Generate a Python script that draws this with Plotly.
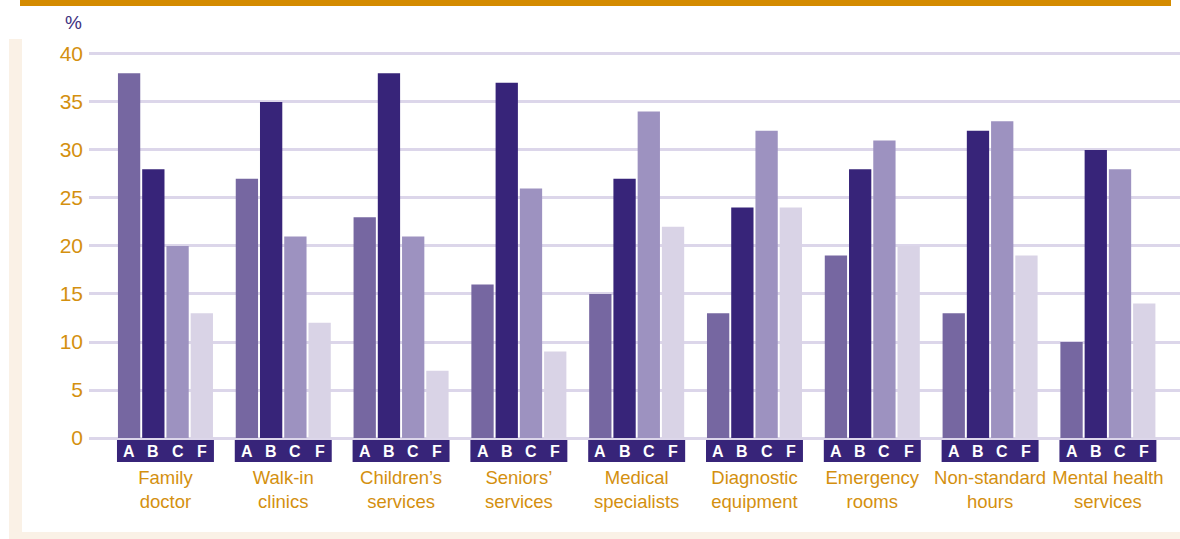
import plotly.graph_objects as go

categories = ["Family<br>doctor", "Walk-in<br>clinics", "Children’s<br>services", "Seniors’<br>services",
              "Medical<br>specialists", "Diagnostic<br>equipment", "Emergency<br>rooms",
              "Non-standard<br>hours", "Mental health<br>services"]
series_names = ["A", "B", "C", "F"]
values_A = [38, 27, 23, 16, 15, 13, 19, 13, 10]
values_B = [28, 35, 38, 37, 27, 24, 28, 32, 30]
values_C = [20, 21, 21, 26, 34, 32, 31, 33, 28]
values_F = [13, 12, 7, 9, 22, 24, 20, 19, 14]
y_ticks = [0, 5, 10, 15, 20, 25, 30, 35, 40]

colors = ["#7667A1", "#372479", "#9D92C0", "#D9D3E6"]
gold = "#D4900F"
band_color = "#372479"
FONT = "Liberation Sans Narrow, Arial Narrow, Liberation Sans, Arial, sans-serif"

bargap = 0.177
slot = (1 - bargap) / 4
idx = list(range(len(categories)))

fig = go.Figure()
for name, vals, col in zip(series_names, [values_A, values_B, values_C, values_F], colors):
    fig.add_trace(go.Bar(x=idx, y=vals, name=name, marker=dict(color=col, line=dict(width=0)),
                         showlegend=False, hoverinfo="y"))

shapes = []
annotations = []
W, H = 1180, 539
ml, mr, mt, mb = 89, 0, 44, 77

def px_x(p):
    return (p - ml) / (W - ml - mr)

def px_y(p):
    return (H - mb - p) / (H - mt - mb)

# cream frame
shapes.append(dict(type="rect", xref="paper", yref="paper", x0=px_x(9), x1=px_x(22), y0=px_y(539), y1=px_y(39),
                   fillcolor="#FAF1E6", line=dict(width=0), layer="below"))
shapes.append(dict(type="rect", xref="paper", yref="paper", x0=px_x(9), x1=px_x(1180), y0=px_y(539), y1=px_y(532),
                   fillcolor="#FAF1E6", line=dict(width=0), layer="below"))
# orange top rule
shapes.append(dict(type="rect", xref="paper", yref="paper", x0=px_x(20), x1=px_x(1171), y0=px_y(6), y1=px_y(0),
                   fillcolor="#D48B00", line=dict(width=0), layer="above"))

for i in idx:
    shapes.append(dict(type="rect", xref="x", yref="y", x0=i - (1 - bargap) / 2, x1=i + (1 - bargap) / 2,
                       y0=-2.5, y1=-0.22, fillcolor=band_color, line=dict(width=0), layer="above"))
    for k, s in enumerate(series_names):
        annotations.append(dict(x=i + (k - 1.5) * slot, y=-1.36, xref="x", yref="y", text=s, showarrow=False,
                                xanchor="center", yanchor="middle",
                                font=dict(family=FONT, size=16, color="white", weight="bold")))

annotations.append(dict(xref="paper", yref="paper", x=px_x(73), y=px_y(22), text="%", showarrow=False,
                        xanchor="center", yanchor="middle",
                        font=dict(family=FONT, size=19, color="#3D3080")))

fig.update_layout(
    width=W, height=H,
    margin=dict(l=ml, r=mr, t=mt, b=mb, autoexpand=False),
    paper_bgcolor="white", plot_bgcolor="white",
    barmode="group", bargap=bargap, bargroupgap=0.08,
    shapes=shapes, annotations=annotations,
    xaxis=dict(tickmode="array", tickvals=idx, ticktext=categories, range=[-0.649, 8.612],
               showgrid=False, zeroline=False, showline=False, ticks="", tickangle=0, automargin=False,
               tickfont=dict(family=FONT, size=18.5, color=gold), ticklabelstandoff=2),
    yaxis=dict(range=[-2.5, 41.04], tickvals=y_ticks, showgrid=True, gridcolor="#DCD6EA", gridwidth=2.5,
               zeroline=False, showline=False, ticks="", automargin=False,
               tickfont=dict(family=FONT, size=21, color=gold), ticklabelstandoff=5),
)

fig.write_html("out.html", config={"displayModeBar": False},
               post_script="document.body.style.margin='0';document.body.style.overflow='hidden';")
